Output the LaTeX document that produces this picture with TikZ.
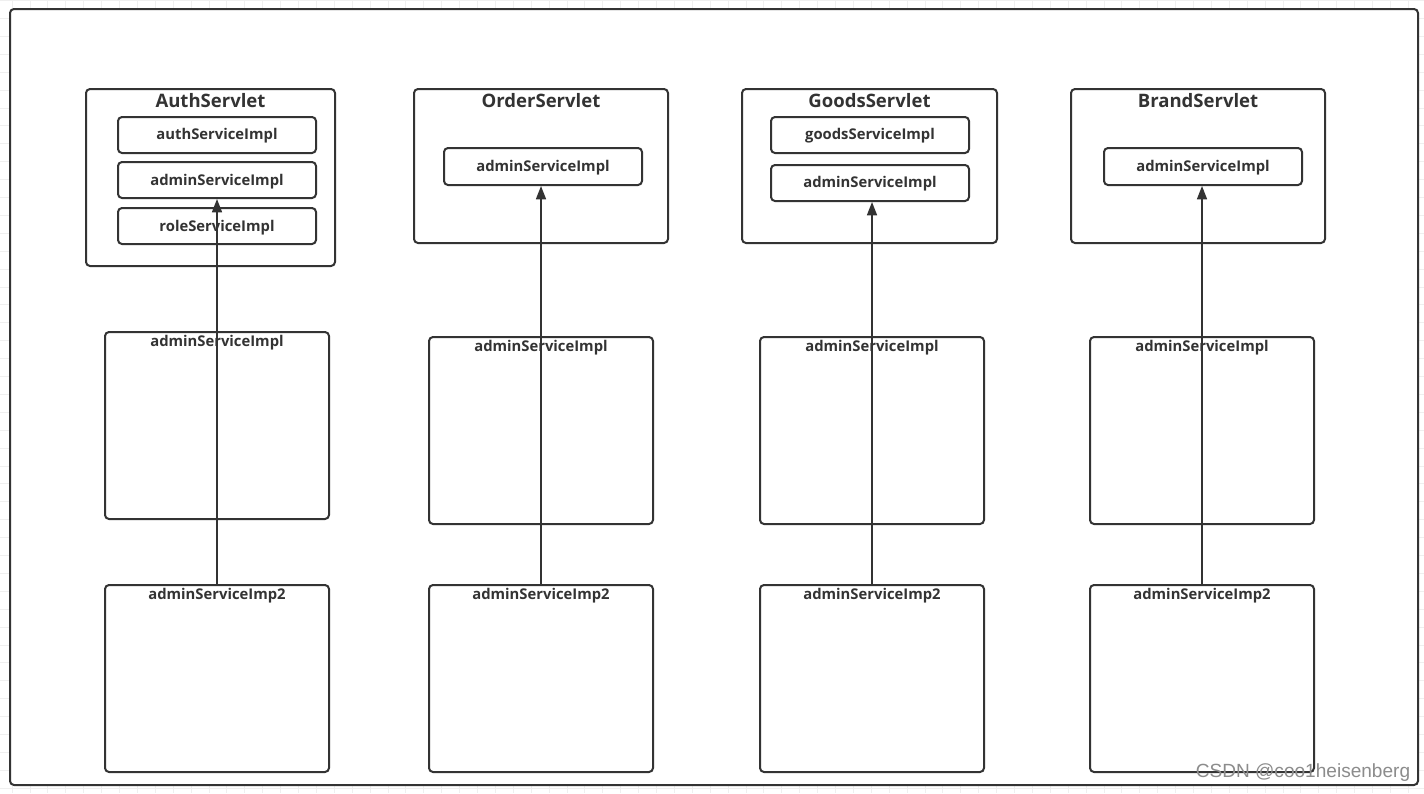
\documentclass[tikz,border=0pt]{standalone}
\usepackage{fontspec}
\setmainfont{Open Sans}
\newfontfamily\wmfont{Liberation Sans}
\usetikzlibrary{arrows.meta,calc}
\definecolor{ln}{HTML}{333333}
\definecolor{gridc}{HTML}{EFEFEF}
\newcommand\bx[6]{\node[#6, minimum width={(#4-#2)*0.75pt}, minimum height={(#5-#3)*0.75pt}] (#1) at ({(#2+#4)/2},{(#3+#5)/2}) {};}
\tikzset{
  frame/.style={draw=ln, line width=1.5pt, rounded corners=3pt, inner sep=0pt, fill=white},
  svbox/.style={draw=ln, line width=1.5pt, rounded corners=3pt, inner sep=0pt},
  inbox/.style={draw=ln, line width=1.5pt, rounded corners=3pt, inner sep=0pt, font=\bfseries\fontsize{11.1}{13}\selectfont, text=ln, text height=1.6ex, text depth=0.2ex},
  title/.style={font=\bfseries\fontsize{13.9}{16}\selectfont, text=ln, inner sep=0pt},
  blabel/.style={font=\bfseries\fontsize{11.1}{13}\selectfont, text=ln, inner sep=0pt},
  conn/.style={draw=ln, line width=1.2pt, -{Triangle[length=10pt,width=7.5pt]}},
}
\begin{document}
\begin{tikzpicture}[x=0.75pt,y=-0.75pt]
\useasboundingbox (0,0) rectangle (1424,793);
% grid background
\foreach \i in {0,...,80} {\draw[gridc, line width=0.6pt] ({12+17.9*\i},0) -- ({12+17.9*\i},793);}
\foreach \j in {0,...,45} {\draw[gridc, line width=0.6pt] (0,{0.5+17.9*\j}) -- (1424,{0.5+17.9*\j});}
% outer frame
\bx{outer}{10}{9}{1418}{785}{frame}
% servlet boxes
\bx{s1}{86}{89}{335}{266}{svbox}
\bx{s2}{414}{89}{668}{243}{svbox}
\bx{s3}{742}{89}{997}{243}{svbox}
\bx{s4}{1071}{89}{1325}{243}{svbox}
\node[title] (t1) at ($(s1.north)+(0,13)$) {AuthServlet};
\node[title] (t2) at ($(s2.north)+(0,13)$) {OrderServlet};
\node[title] (t3) at ($(s3.north)+(0,13)$) {GoodsServlet};
\node[title] (t4) at ($(s4.north)+(0,13)$) {BrandServlet};
% inner boxes
\node[inbox, minimum width={198*0.75pt}, minimum height={36*0.75pt}] (a1) at (217,135) {authServiceImpl};
\node[inbox, minimum width={198*0.75pt}, minimum height={36*0.75pt}] (i1) at (217,180) {adminServiceImpl};
\node[inbox, minimum width={198*0.75pt}, minimum height={36*0.75pt}] (r1) at (217,226) {roleServiceImpl};
\node[inbox, minimum width={198*0.75pt}, minimum height={37*0.75pt}] (i2) at (543,166.5) {adminServiceImpl};
\node[inbox, minimum width={198*0.75pt}, minimum height={36*0.75pt}] (g3) at (870,135) {goodsServiceImpl};
\node[inbox, minimum width={198*0.75pt}, minimum height={36*0.75pt}] (i3) at (870,183) {adminServiceImpl};
\node[inbox, minimum width={198*0.75pt}, minimum height={37*0.75pt}] (i4) at (1203,166.5) {adminServiceImpl};
% middle boxes
\bx{m1}{105}{332}{329}{519}{svbox}
\bx{m2}{429}{337}{653}{524}{svbox}
\bx{m3}{760}{337}{984}{524}{svbox}
\bx{m4}{1090}{337}{1314}{524}{svbox}
\node[blabel] (ml1) at ($(m1.north)+(0,12)$) {adminServiceImpl};
\node[blabel] (ml2) at ($(m2.north)+(0,12)$) {adminServiceImpl};
\node[blabel] (ml3) at ($(m3.north)+(0,12)$) {adminServiceImpl};
\node[blabel] (ml4) at ($(m4.north)+(0,12)$) {adminServiceImpl};
% bottom boxes
\bx{b1}{105}{585}{329}{772}{svbox}
\bx{b2}{429}{585}{653}{772}{svbox}
\bx{b3}{760}{585}{984}{772}{svbox}
\bx{b4}{1090}{585}{1314}{772}{svbox}
\node[blabel] (bl1) at ($(b1.north)+(0,12)$) {adminServiceImp2};
\node[blabel] (bl2) at ($(b2.north)+(0,12)$) {adminServiceImp2};
\node[blabel] (bl3) at ($(b3.north)+(0,12)$) {adminServiceImp2};
\node[blabel] (bl4) at ($(b4.north)+(0,12)$) {adminServiceImp2};
% connectors
\draw[conn] (b1.north) -- (b1.north |- i1.south);
\draw[conn] (b2.north) -- (b2.north |- i2.south);
\draw[conn] (b3.north) -- (b3.north |- i3.south);
\draw[conn] (b4.north) -- (b4.north |- i4.south);
% watermark
\node[font=\wmfont\fontsize{14.3}{16}\selectfont, text=black!45, inner sep=0pt] (wm) at (1303,773) {CSDN @coo1heisenberg};
\end{tikzpicture}
\end{document}
